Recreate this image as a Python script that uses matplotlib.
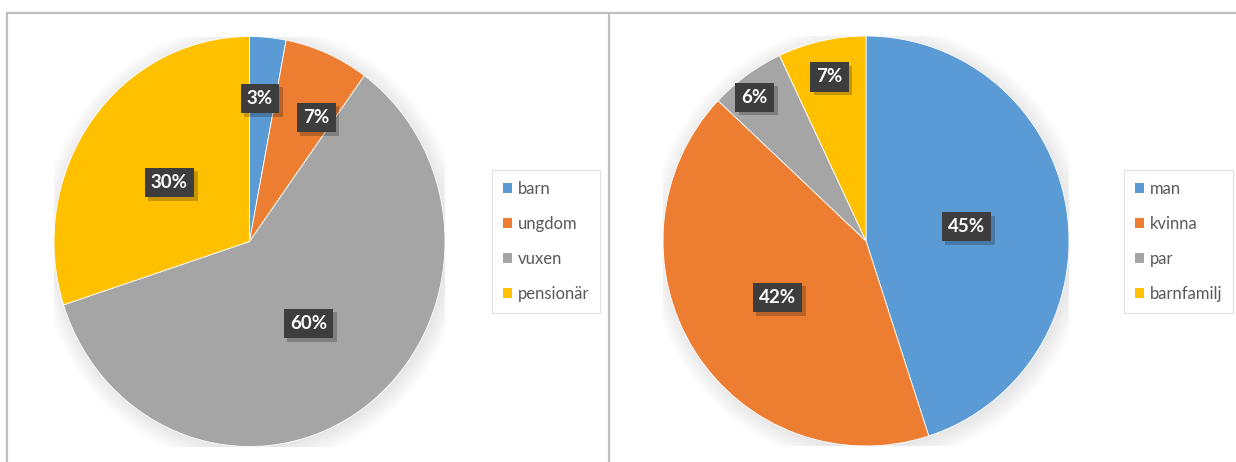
import numpy as np
import matplotlib.pyplot as plt
import matplotlib.patheffects as pe
from matplotlib.patches import Patch
from matplotlib.lines import Line2D

plt.rcParams['font.family'] = ['Lato', 'DejaVu Sans']

# fördelning per ålder och per hushållstyp (procent)
alder = ['barn', 'ungdom', 'vuxen', 'pensionär']
alder_andel = [3, 7, 60, 30]
hushall = ['man', 'kvinna', 'par', 'barnfamilj']
hushall_andel = [45, 42, 6, 7]

farger = ['#5B9BD5', '#ED7D31', '#A5A5A5', '#FFC000']

# etikettplacering: avstånd från centrum (andel av radien) och vridning i grader medurs
alder_avst = [0.70, 0.695, 0.50, 0.50]
alder_vrid = [-1, 6, -1, -1]
hushall_avst = [0.50, 0.515, 0.89, 0.82]
hushall_vrid = [1, 0, -2, 0]

W, H = 1236, 462
fig = plt.figure(figsize=(W / 100, H / 100), dpi=100)
fig.patch.set_facecolor('white')

# ramar runt de två diagrammen
ramfarg = '#bfbfbf'
fig.add_artist(Line2D([7 / W, 1.0], [1 - 13 / H, 1 - 13 / H], color=ramfarg, lw=1.6))
fig.add_artist(Line2D([7 / W, 7 / W], [0, 1 - 13 / H], color=ramfarg, lw=1.6))
fig.add_artist(Line2D([609 / W, 609 / W], [0, 1 - 13 / H], color=ramfarg, lw=1.6))


def paj(cx, cy, rx, ry, varden, namn, avst, vrid, leg_x, leg_y):
    ax = fig.add_axes([(cx - rx) / W, 1 - (cy + ry) / H, 2 * rx / W, 2 * ry / H])
    # mjuk skugga runt pajen
    for i in range(8):
        ax.add_patch(plt.Circle((0.012, -0.015), 1 + 0.012 * i, color='black',
                                alpha=0.012, lw=0, zorder=0))
    wedges, _ = ax.pie(varden, colors=farger, startangle=90, counterclock=False,
                       radius=1, wedgeprops=dict(edgecolor='white', linewidth=0.6))
    for w in wedges:
        w.set_zorder(2)
    for w, v, d, dv in zip(wedges, varden, avst, vrid):
        mid = np.deg2rad((w.theta1 + w.theta2) / 2 - dv)
        t = ax.text(d * np.cos(mid), d * np.sin(mid), f'{v}%', ha='center', va='center',
                    color='white', fontsize=13.5, fontweight='bold', zorder=5,
                    bbox=dict(boxstyle='square,pad=0.33', facecolor='#3d3d3d',
                              edgecolor='none'))
        t.get_bbox_patch().set_path_effects(
            [pe.withSimplePatchShadow(offset=(2.5, -2.5), shadow_rgbFace='black', alpha=0.22)])
    ax.set_xlim(-1, 1)
    ax.set_ylim(-1, 1)
    ax.set_aspect('auto')
    ax.axis('off')

    handles = [Patch(facecolor=c, edgecolor='none') for c in farger]
    leg = fig.legend(handles, namn, loc='upper left',
                     bbox_to_anchor=(leg_x / W, 1 - leg_y / H), frameon=True,
                     fontsize=12, labelspacing=1.15, handlelength=0.55,
                     handleheight=0.55, handletextpad=0.35, borderpad=0.65,
                     borderaxespad=0, fancybox=False, labelcolor='#595959')
    leg.get_frame().set_edgecolor('#d9d9d9')
    leg.get_frame().set_linewidth(0.8)


paj(249.5, 241.5, 195.5, 205, alder_andel, alder, alder_avst, alder_vrid, 492, 170)
paj(866, 241, 203, 205, hushall_andel, hushall, hushall_avst, hushall_vrid, 1124, 170)

fig.savefig('out.png', dpi=100, facecolor='white')
